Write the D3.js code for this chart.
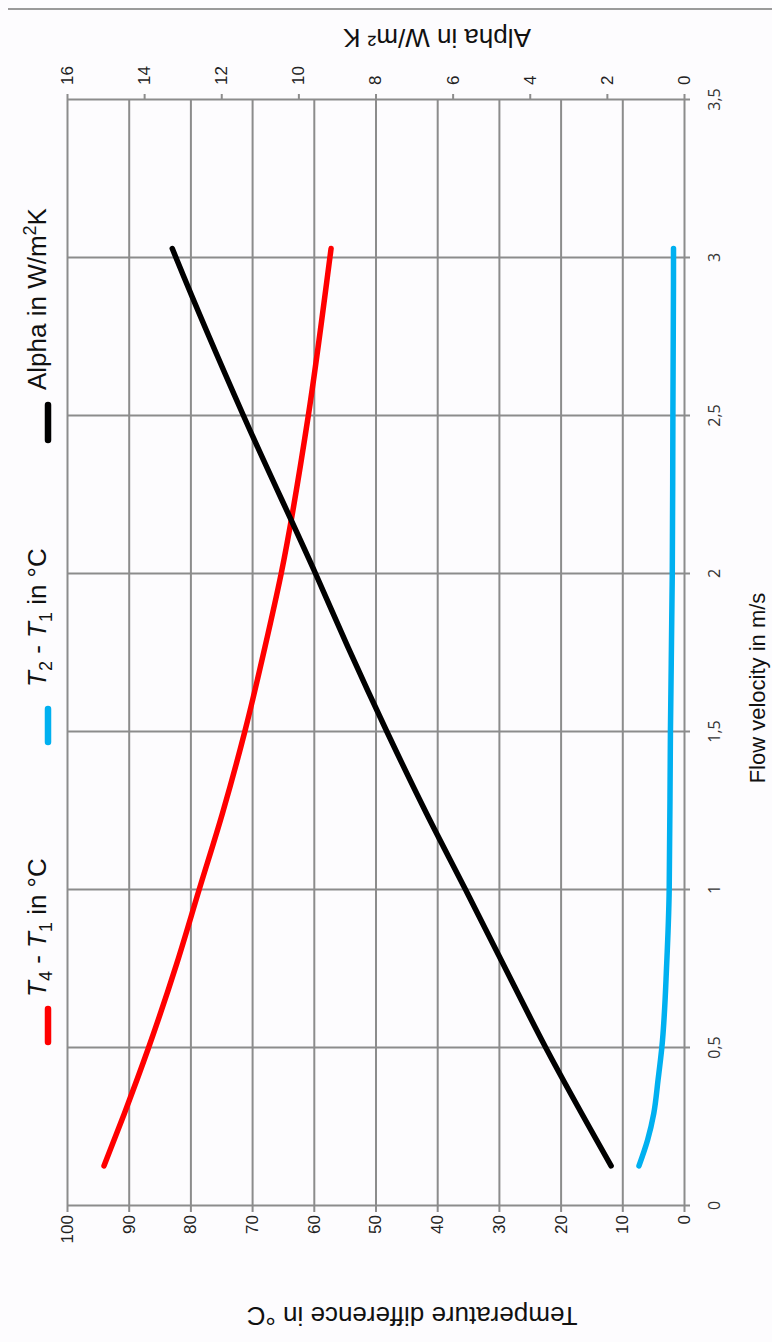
<!DOCTYPE html>
<html>
<head>
<meta charset="utf-8">
<script src="https://cdn.jsdelivr.net/npm/d3@7"></script>
<style>
  html, body { margin: 0; padding: 0; background: #fdfcfe; }
  svg { display: block; }
</style>
</head>
<body>
<svg id="chart" width="772" height="1342"></svg>
<script>
// Axis ticks
const velocityTicks = [0, 0.5, 1, 1.5, 2, 2.5, 3, 3.5];
const velocityTickLabels = ["0", "0,5", "1", "1,5", "2", "2,5", "3", "3,5"];
const tempTicks = [0, 10, 20, 30, 40, 50, 60, 70, 80, 90, 100];
const alphaTicks = [0, 2, 4, 6, 8, 10, 12, 14, 16];

// T4 - T1 (°C) against flow velocity (m/s)
const velT41 = [0.127, 0.293, 0.5, 0.768, 1.0, 1.243, 1.5, 1.77, 2.0, 2.5, 3.0, 3.03];
const dT41   = [94.0, 90.7, 86.8, 82.2, 78.6, 74.8, 71.2, 67.9, 65.3, 60.9, 57.4, 57.2];

// T2 - T1 (°C) against flow velocity (m/s)
const velT21 = [0.127, 0.209, 0.293, 0.4, 0.5, 0.768, 1.0, 1.5, 2.0, 2.5, 3.0, 3.03];
const dT21   = [7.3, 5.9, 4.9, 4.2, 3.6, 2.8, 2.4, 2.2, 1.9, 1.8, 1.7, 1.7];

// Heat transfer coefficient alpha (W/m²K) against flow velocity (m/s)
const velAlpha = [0.127, 0.5, 0.768, 1.0, 1.243, 1.5, 1.77, 2.0, 2.5, 3.0, 3.03];
const alphaVal = [1.89, 3.58, 4.70, 5.66, 6.68, 7.70, 8.72, 9.55, 11.42, 13.17, 13.27];

// The chart is laid out in a landscape frame and turned a quarter turn onto the page.
const FRAME_W = 1342, FRAME_H = 772;
const plot = { left: 136, right: 1242, top: 67, bottom: 684 };
const gridColor = "#8c8c8c";
const sans = "'Liberation Sans', Arial, sans-serif";

const svg = d3.select("#chart");
svg.append("rect").attr("width", 772).attr("height", 1342).attr("fill", "#fdfcfe");

const g = svg.append("g").attr("transform", `translate(0,${FRAME_W}) rotate(-90)`);

const x = d3.scaleLinear().domain([0, 3.5]).range([plot.left, plot.right]);
const yT = d3.scaleLinear().domain([0, 100]).range([plot.bottom, plot.top]);
const yA = d3.scaleLinear().domain([0, 16]).range([plot.bottom, plot.top]);

// thin rule along the top edge
g.append("line")
  .attr("x1", 1333).attr("x2", 1333)
  .attr("y1", 8).attr("y2", FRAME_H)
  .attr("stroke", "#9a9a9a").attr("stroke-width", 2);

// Flow velocity axis + vertical gridlines
const xAxis = g.append("g")
  .attr("transform", `translate(0,${plot.bottom})`)
  .call(d3.axisBottom(x).tickValues(velocityTicks)
    .tickFormat((d, i) => velocityTickLabels[i]).tickSizeOuter(0));
xAxis.select(".domain").remove();
xAxis.selectAll(".tick line")
  .attr("y1", -(plot.bottom - plot.top)).attr("y2", 6)
  .attr("stroke", gridColor).attr("stroke-width", 2);
xAxis.selectAll(".tick text")
  .attr("y", 36).attr("dy", null)
  .attr("fill", "#333")
  .style("font-family", "'Open Sans', sans-serif")
  .style("font-size", "16px");

// Temperature axis (left) + horizontal gridlines
const tAxis = g.append("g")
  .attr("transform", `translate(${plot.left},0)`)
  .call(d3.axisLeft(yT).tickValues(tempTicks).tickSizeOuter(0));
tAxis.select(".domain").remove();
tAxis.selectAll(".tick line")
  .attr("x1", plot.right - plot.left).attr("x2", -6)
  .attr("stroke", gridColor).attr("stroke-width", 2);
tAxis.selectAll(".tick text")
  .attr("x", -9)
  .attr("fill", "#222")
  .style("font-family", sans)
  .style("font-size", "17px");

// Alpha axis (right)
const aAxis = g.append("g")
  .attr("transform", `translate(${plot.right},0)`)
  .call(d3.axisRight(yA).tickValues(alphaTicks).tickSize(6).tickSizeOuter(0));
aAxis.select(".domain").remove();
aAxis.selectAll(".tick line").attr("stroke", gridColor).attr("stroke-width", 2);
aAxis.selectAll(".tick text")
  .attr("x", 15)
  .attr("fill", "#222")
  .style("font-family", sans)
  .style("font-size", "17px");

// Series lines
const lineT = d3.line().x(d => x(d[0])).y(d => yT(d[1])).curve(d3.curveMonotoneX);
const lineA = d3.line().x(d => x(d[0])).y(d => yA(d[1])).curve(d3.curveMonotoneX);

const series = [
  { pts: d3.zip(velT21, dT21), gen: lineT, color: "#00b0f0" },
  { pts: d3.zip(velT41, dT41), gen: lineT, color: "#ff0000" },
  { pts: d3.zip(velAlpha, alphaVal), gen: lineA, color: "#000000" }
];
g.selectAll("path.series").data(series).join("path")
  .attr("class", "series")
  .attr("d", s => s.gen(s.pts))
  .attr("fill", "none")
  .attr("stroke", s => s.color)
  .attr("stroke-width", 5.5)
  .attr("stroke-linecap", "round")
  .attr("stroke-linejoin", "round");

// Axis titles
g.append("text")
  .attr("transform", "translate(35,412) rotate(-90)")
  .attr("text-anchor", "middle")
  .style("font-family", sans).style("font-size", "26px").attr("fill", "#111")
  .text("Temperature difference in °C");

g.append("text")
  .attr("transform", "translate(1313,437) rotate(-90)")
  .attr("text-anchor", "middle")
  .style("font-family", sans).style("font-size", "26px").attr("fill", "#111")
  .text("Alpha in W/m² K");

g.append("text")
  .attr("x", 654).attr("y", 765)
  .attr("text-anchor", "middle")
  .style("font-family", sans).style("font-size", "22px").attr("fill", "#111")
  .text("Flow velocity in m/s");

// Legend
const legendItems = [
  { u0: 300, u1: 333, tx: 345, color: "#ff0000",
    parts: [["T", "it"], ["4", "sub"], [" - ", ""], ["T", "it"], ["1", "sub"], [" in °C", ""]] },
  { u0: 600, u1: 633, tx: 655, color: "#00b0f0",
    parts: [["T", "it"], ["2", "sub"], [" - ", ""], ["T", "it"], ["1", "sub"], [" in °C", ""]] },
  { u0: 902, u1: 937, tx: 952, color: "#000000",
    parts: [["Alpha in W/m", ""], ["2", "sup"], ["K", ""]] }
];
const legendY = 46;
const lg = g.append("g");
legendItems.forEach(item => {
  lg.append("line")
    .attr("x1", item.u0).attr("x2", item.u1)
    .attr("y1", legendY + 2).attr("y2", legendY + 2)
    .attr("stroke", item.color).attr("stroke-width", 6.5)
    .attr("stroke-linecap", "round");
  const t = lg.append("text")
    .attr("x", item.tx).attr("y", legendY)
    .style("font-family", sans).style("font-size", "26px").attr("fill", "#111");
  let shift = 0;
  item.parts.forEach(([s, kind]) => {
    let target = 0;
    if (kind === "sub") target = 6;
    if (kind === "sup") target = -10;
    const ts = t.append("tspan").attr("dy", target - shift).text(s);
    shift = target;
    if (kind === "it") ts.style("font-style", "italic");
    if (kind === "sub" || kind === "sup") ts.style("font-size", "18px");
  });
});
</script>
</body>
</html>
